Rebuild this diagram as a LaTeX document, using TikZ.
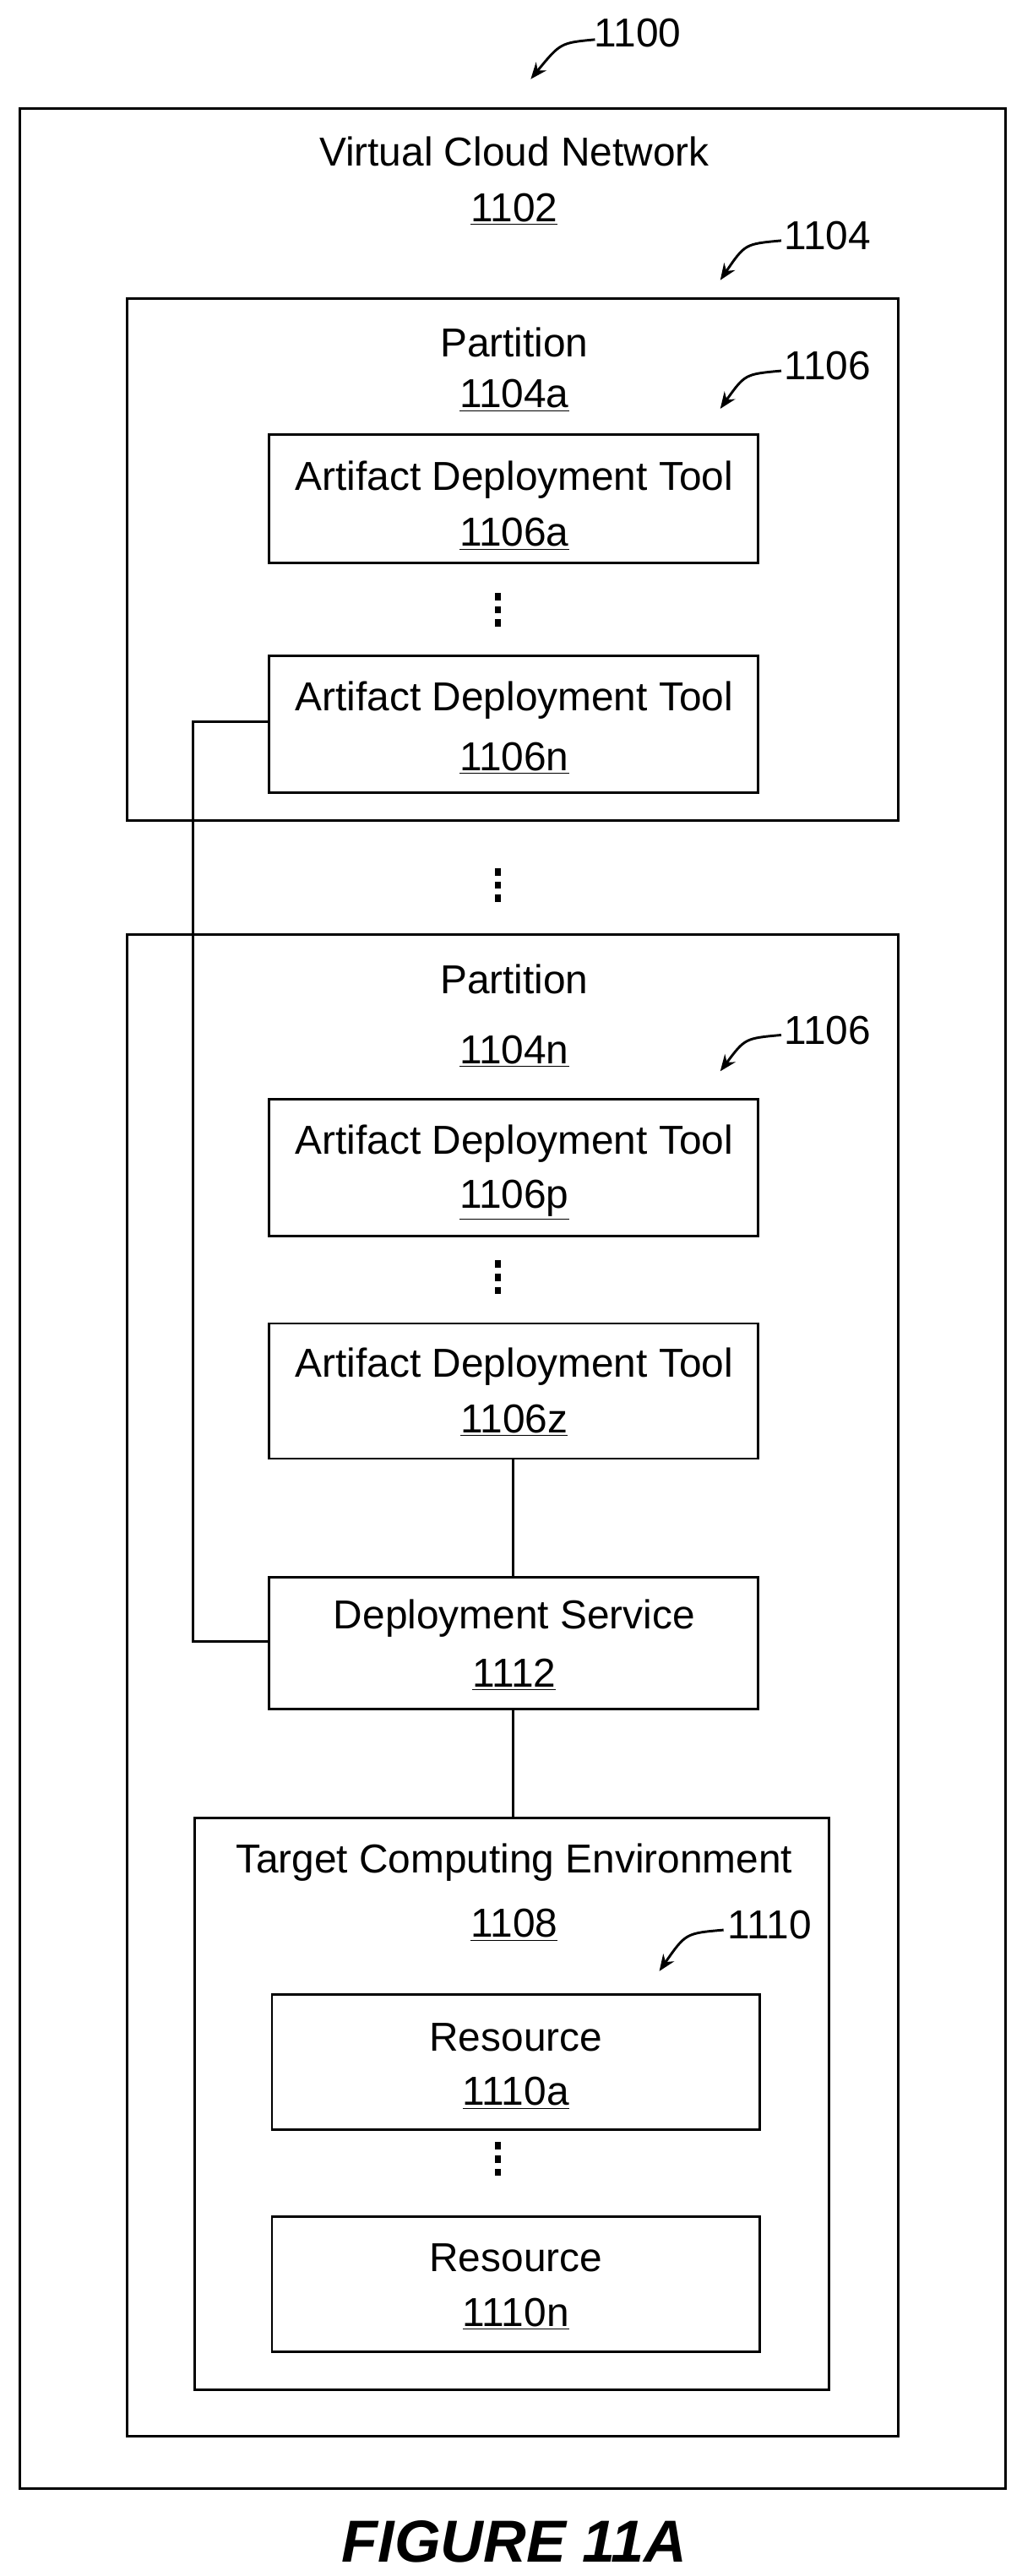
\documentclass[tikz,border=0pt]{standalone}
\usepackage{fontspec}
\setmainfont{Liberation Sans}
\usetikzlibrary{arrows.meta}
\begin{document}
\begin{tikzpicture}[x=1pt,y=-1pt,
  box/.style={draw,line width=1.5pt},
  lbl/.style={font=\fontsize{24.5}{28}\selectfont,inner sep=0pt},
  ref/.style={line width=1.5pt,-{Stealth[length=10pt,width=8pt]}},
  wire/.style={line width=1.5pt},
  dot/.style={fill,inner sep=0pt,minimum width=3.5pt,minimum height=4.5pt}]
\useasboundingbox (0,0) rectangle (620,1563);
\newcommand{\dotsv}[3]{\node[dot] (#1a) at (#2,#3-8) {};\node[dot] (#1b) at (#2,#3) {};\node[dot] (#1c) at (#2,#3+8) {};}
% outer
\draw[box] (12,66) rectangle (610,1510);
\node[lbl] (t1100) at (387,20) {1100};
\coordinate (a1100) at (322,48);
\draw[ref] (361,24) .. controls (340,26) .. (a1100);
\node[lbl] (vcn) at (312,92) {Virtual Cloud Network};
\node[lbl] (n1102) at (312,127) {\underline{1102}};
% partition 1
\draw[box] (77,181) rectangle (545,498);
\node[lbl] (t1104) at (502,143) {1104};
\coordinate (a1104) at (437,170);
\draw[ref] (474,146) .. controls (452,148) .. (a1104);
\node[lbl] (p1) at (312,208) {Partition};
\node[lbl] (n1104a) at (312,240) {\underline{1104a}};
\node[lbl] (t1106a) at (502,222) {1106};
\coordinate (a1106a) at (437,248);
\draw[ref] (474,225) .. controls (452,227) .. (a1106a);
\node[box,minimum width=297pt,minimum height=78pt] (adt1) at (311.5,302.5) {};
\node[lbl] at (312,291) {Artifact Deployment Tool};
\node[lbl] at (312,324) {\underline{1106a}};
\dotsv{d1}{302}{370}
\node[box,minimum width=297pt,minimum height=83pt] (adtn) at (311.5,439.5) {};
\node[lbl] at (312,425) {Artifact Deployment Tool};
\node[lbl] at (312,460) {\underline{1106n}};
\dotsv{d2}{302}{537}
% partition 2
\draw[box] (77,567) rectangle (545,1478);
\node[lbl] (p2) at (312,594) {Partition};
\node[lbl] (n1104n) at (312,638) {\underline{1104n}};
\node[lbl] (t1106b) at (502,625) {1106};
\coordinate (a1106b) at (437,650);
\draw[ref] (474,628) .. controls (452,630) .. (a1106b);
\node[box,minimum width=297pt,minimum height=83pt] (adtp) at (311.5,708.5) {};
\node[lbl] at (312,694) {Artifact Deployment Tool};
\node[lbl] at (312,728) {\underline{1106p}};
\dotsv{d3}{302}{775}
\node[box,minimum width=297pt,minimum height=82pt] (adtz) at (311.5,844) {};
\node[lbl] at (312,829) {Artifact Deployment Tool};
\node[lbl] at (312,862) {\underline{1106z}};
\node[box,minimum width=297pt,minimum height=80pt] (ds) at (311.5,997) {};
\node[lbl] at (312,982) {Deployment Service};
\node[lbl] at (312,1016) {\underline{1112}};
% TCE
\node[box,minimum width=385pt,minimum height=347pt] (tce) at (310.5,1276.5) {};
\node[lbl] at (312,1130) {Target Computing Environment};
\node[lbl] at (312,1168) {\underline{1108}};
\node[lbl] (t1110) at (467,1168) {1110};
\coordinate (a1110) at (400,1196);
\draw[ref] (439,1171) .. controls (416,1173) .. (a1110);
\node[box,minimum width=296pt,minimum height=82pt] (r1) at (313,1251) {};
\node[lbl] at (313,1236) {Resource};
\node[lbl] at (313,1270) {\underline{1110a}};
\dotsv{d4}{302}{1310}
\node[box,minimum width=296pt,minimum height=82pt] (rn) at (313,1386) {};
\node[lbl] at (313,1370) {Resource};
\node[lbl] at (313,1404) {\underline{1110n}};
% wires
\draw[wire] (adtz.south) -- (ds.north);
\draw[wire] (ds.south) -- (ds.south |- tce.north);
\draw[wire] (adtn.west |- 0,438) -- (117,438) -- (117,996) -- (ds.west |- 0,996);
\node[font=\fontsize{36}{42}\selectfont\bfseries\itshape] (fig) at (312,1542) {FIGURE 11A};
\end{tikzpicture}
\end{document}
